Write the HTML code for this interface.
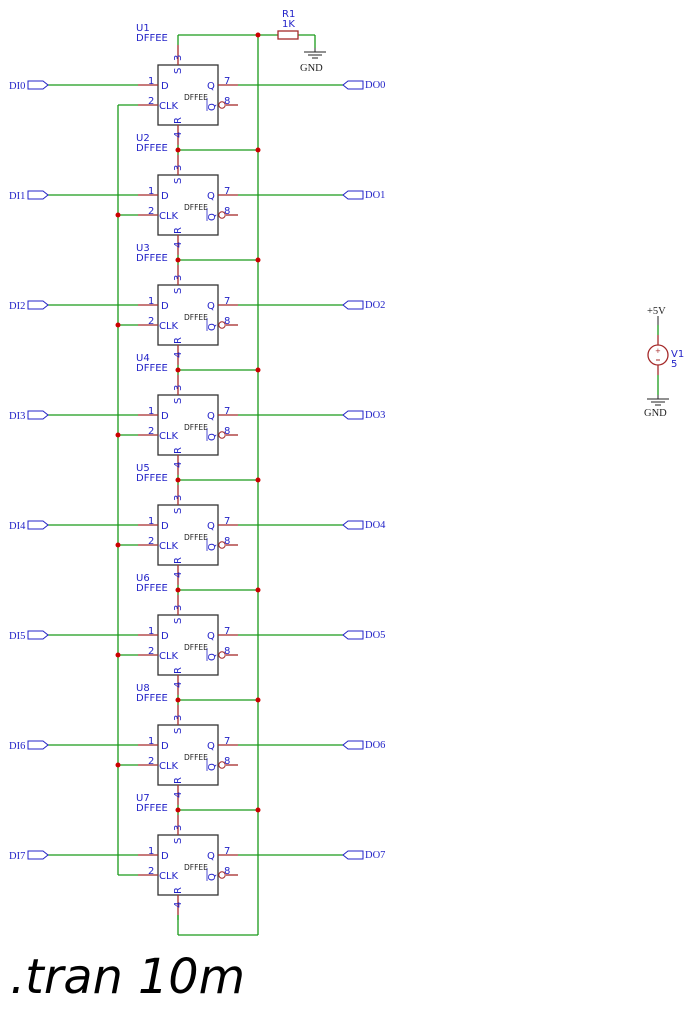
<!DOCTYPE html>
<html><head><meta charset="utf-8"><style>
html,body{margin:0;padding:0;background:#fff;}
svg{display:block;}
.w{stroke:#1a9a1a;stroke-width:1.3;fill:none;}
.p{stroke:#a52a2a;stroke-width:1.3;fill:none;}
.b{stroke:#333;stroke-width:1.3;fill:#fff;}
.t{font-family:"DejaVu Sans",sans-serif;fill:#2323c8;font-size:10px;}
.s{font-family:"Liberation Serif",serif;fill:#2323c8;font-size:10.5px;}
.k{font-family:"DejaVu Sans",sans-serif;fill:#222;font-size:7.5px;}
.g{font-family:"Liberation Serif",serif;fill:#222;font-size:10.5px;}
</style></head><body>
<svg width="694" height="1012" viewBox="0 0 694 1012" xmlns="http://www.w3.org/2000/svg">
<defs>
<g id="blk">
<rect class="b" x="158" y="65" width="60" height="60"/>
<line class="p" x1="178" y1="45" x2="178" y2="65"/>
<line class="p" x1="178" y1="125" x2="178" y2="145"/>
<line class="w" x1="178" y1="145" x2="178" y2="150"/>
<line class="p" x1="138" y1="85" x2="158" y2="85"/>
<line class="p" x1="138" y1="105" x2="158" y2="105"/>
<line class="p" x1="218" y1="85" x2="238" y2="85"/>
<line class="p" x1="226" y1="105" x2="238" y2="105"/>
<circle cx="222" cy="105" r="3.2" fill="none" stroke="#a52a2a" stroke-width="1"/>
<line class="w" x1="48" y1="85" x2="138" y2="85"/>
<line class="w" x1="238" y1="85" x2="343" y2="85"/>
<line class="w" x1="118" y1="105" x2="138" y2="105"/>
<path d="M28,81 H43 L48,85 L43,89 H28 Z" fill="none" stroke="#2323c8" stroke-width="1"/>
<path d="M343,85 L348,81 H363 V89 H348 Z" fill="none" stroke="#2323c8" stroke-width="1"/>
<text class="t" x="148" y="84">1</text>
<text class="t" x="148" y="104">2</text>
<text class="t" x="161" y="89">D</text>
<text class="t" x="159" y="109">CLK</text>
<text class="t" x="207" y="89">Q</text>
<text class="t" x="224" y="84">7</text>
<text class="t" x="224" y="104">8</text>
<text class="t" transform="translate(215,111) rotate(-90)">Q</text>
<line x1="207" y1="98" x2="207" y2="111" stroke="#2323c8" stroke-width="0.8"/>
<text class="k" x="184" y="100">DFFEE</text>
<text class="t" transform="translate(181,61) rotate(-90)">3</text>
<text class="t" transform="translate(181,74) rotate(-90)">S</text>
<text class="t" transform="translate(181,124) rotate(-90)">R</text>
<text class="t" transform="translate(181,138) rotate(-90)">4</text>
</g>
</defs>
<use href="#blk"/>
<use href="#blk" y="110"/>
<use href="#blk" y="220"/>
<use href="#blk" y="330"/>
<use href="#blk" y="440"/>
<use href="#blk" y="550"/>
<use href="#blk" y="660"/>
<use href="#blk" y="770"/>
<line class="w" x1="178" y1="35" x2="178" y2="45"/>
<line class="w" x1="178" y1="35" x2="278" y2="35"/>
<line class="w" x1="298" y1="35" x2="315" y2="35"/>
<line class="w" x1="315" y1="35" x2="315" y2="48"/>
<line x1="315" y1="48" x2="315" y2="52" stroke="#222" stroke-width="1"/>
<line x1="304" y1="52" x2="326" y2="52" stroke="#222" stroke-width="1"/>
<line x1="308" y1="55" x2="322" y2="55" stroke="#222" stroke-width="1"/>
<line x1="312" y1="58" x2="318" y2="58" stroke="#222" stroke-width="1"/>
<text class="g" x="300" y="71">GND</text>
<rect x="278" y="31" width="20" height="8" fill="none" stroke="#a52a2a" stroke-width="1.3"/>
<text class="t" x="282" y="17">R1</text>
<text class="t" x="282" y="27">1K</text>
<line class="w" x1="258" y1="35" x2="258" y2="935"/>
<line class="w" x1="178" y1="915" x2="178" y2="935"/>
<line class="w" x1="178" y1="935" x2="258" y2="935"/>
<line class="w" x1="118" y1="105" x2="118" y2="875"/>
<g class="w">
<line x1="178" y1="150" x2="258" y2="150"/><line x1="178" y1="260" x2="258" y2="260"/>
<line x1="178" y1="370" x2="258" y2="370"/><line x1="178" y1="480" x2="258" y2="480"/>
<line x1="178" y1="590" x2="258" y2="590"/><line x1="178" y1="700" x2="258" y2="700"/>
<line x1="178" y1="810" x2="258" y2="810"/>
<line x1="178" y1="150" x2="178" y2="155"/><line x1="178" y1="260" x2="178" y2="265"/>
<line x1="178" y1="370" x2="178" y2="375"/><line x1="178" y1="480" x2="178" y2="485"/>
<line x1="178" y1="590" x2="178" y2="595"/><line x1="178" y1="700" x2="178" y2="705"/>
<line x1="178" y1="810" x2="178" y2="815"/>
</g>
<g fill="#c00">
<circle cx="258" cy="35" r="2.5"/>
<circle cx="178" cy="150" r="2.5"/><circle cx="258" cy="150" r="2.5"/>
<circle cx="178" cy="260" r="2.5"/><circle cx="258" cy="260" r="2.5"/>
<circle cx="178" cy="370" r="2.5"/><circle cx="258" cy="370" r="2.5"/>
<circle cx="178" cy="480" r="2.5"/><circle cx="258" cy="480" r="2.5"/>
<circle cx="178" cy="590" r="2.5"/><circle cx="258" cy="590" r="2.5"/>
<circle cx="178" cy="700" r="2.5"/><circle cx="258" cy="700" r="2.5"/>
<circle cx="178" cy="810" r="2.5"/><circle cx="258" cy="810" r="2.5"/>
<circle cx="118" cy="215" r="2.5"/><circle cx="118" cy="325" r="2.5"/>
<circle cx="118" cy="435" r="2.5"/><circle cx="118" cy="545" r="2.5"/>
<circle cx="118" cy="655" r="2.5"/><circle cx="118" cy="765" r="2.5"/>
</g>
<g class="t">
<text x="136" y="31">U1</text><text x="136" y="41">DFFEE</text>
<text x="136" y="141">U2</text><text x="136" y="151">DFFEE</text>
<text x="136" y="251">U3</text><text x="136" y="261">DFFEE</text>
<text x="136" y="361">U4</text><text x="136" y="371">DFFEE</text>
<text x="136" y="471">U5</text><text x="136" y="481">DFFEE</text>
<text x="136" y="581">U6</text><text x="136" y="591">DFFEE</text>
<text x="136" y="691">U8</text><text x="136" y="701">DFFEE</text>
<text x="136" y="801">U7</text><text x="136" y="811">DFFEE</text>
</g>
<g class="s">
<text x="9" y="89">DI0</text><text x="365" y="88">DO0</text>
<text x="9" y="199">DI1</text><text x="365" y="198">DO1</text>
<text x="9" y="309">DI2</text><text x="365" y="308">DO2</text>
<text x="9" y="419">DI3</text><text x="365" y="418">DO3</text>
<text x="9" y="529">DI4</text><text x="365" y="528">DO4</text>
<text x="9" y="639">DI5</text><text x="365" y="638">DO5</text>
<text x="9" y="749">DI6</text><text x="365" y="748">DO6</text>
<text x="9" y="859">DI7</text><text x="365" y="858">DO7</text>
</g>
<text class="g" x="647" y="314">+5V</text>
<line x1="658" y1="316" x2="658" y2="325" stroke="#222" stroke-width="1"/>
<line class="w" x1="658" y1="325" x2="658" y2="335"/>
<line class="p" x1="658" y1="335" x2="658" y2="345"/>
<circle cx="658" cy="355" r="10" fill="none" stroke="#a52a2a" stroke-width="1.3"/>
<text x="655" y="353" font-family="DejaVu Sans" font-size="7" fill="#a52a2a">+</text>
<line x1="656" y1="360" x2="660" y2="360" stroke="#a52a2a" stroke-width="1"/>
<line class="p" x1="658" y1="365" x2="658" y2="375"/>
<line class="w" x1="658" y1="375" x2="658" y2="395"/>
<line x1="658" y1="395" x2="658" y2="399" stroke="#222" stroke-width="1"/>
<line x1="647" y1="399" x2="669" y2="399" stroke="#222" stroke-width="1"/>
<line x1="651" y1="402" x2="665" y2="402" stroke="#222" stroke-width="1"/>
<line x1="655" y1="405" x2="661" y2="405" stroke="#222" stroke-width="1"/>
<text class="g" x="644" y="416">GND</text>
<text class="t" x="671" y="357">V1</text>
<text class="t" x="671" y="367">5</text>
<text x="10" y="993" font-family="DejaVu Sans" font-style="italic" font-size="48" fill="#000" textLength="235" lengthAdjust="spacingAndGlyphs">.tran 10m</text>
</svg>
</body></html>
